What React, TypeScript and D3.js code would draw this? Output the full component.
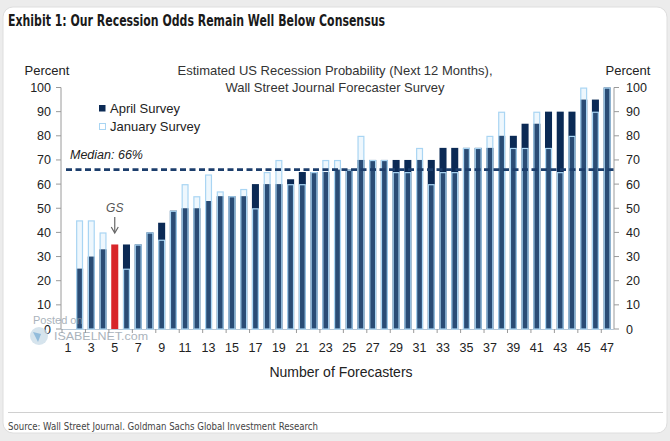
import React from "react";
import * as d3 from "d3";

const categories = [1,2,3,4,5,6,7,8,9,10,11,12,13,14,15,16,17,18,19,20,21,22,23,24,25,26,27,28,29,30,31,32,33,34,35,36,37,38,39,40,41,42,43,44,45,46,47];
const aprilSurvey = [null,25,30,33,35,35,35,40,44,49,50,50,53,55,55,55,60,60,60,62,65,65,65,66,66,70,70,70,70,70,70,70,75,75,75,75,75,80,80,85,85,90,90,90,95,95,100];
const januarySurvey = [null,45,45,40,35,25,35,40,37,49,60,55,64,57,55,58,50,65,70,60,60,65,70,70,66,80,70,70,65,65,75,60,65,65,75,75,80,90,75,75,90,75,65,80,100,90,100];
const yTicks = [0,10,20,30,40,50,60,70,80,90,100];
const xTickLabels = [1,3,5,7,9,11,13,15,17,19,21,23,25,27,29,31,33,35,37,39,41,43,45,47];
const gsForecaster = 5;
const median = 66;

const NAVY = "#0b2a55";
const LIGHT = "#a9d5f3";
const RED = "#d8262a";
const FONT = "'Liberation Sans', Arial, sans-serif";
const NARROW = "'Liberation Sans Narrow', 'DejaVu Sans Condensed', sans-serif";

export default function App() {
  const W = 670, H = 441;
  const x = d3.scaleBand<number>().domain(categories).range([62, 613]).paddingInner(0.4).paddingOuter(0.2);
  const y = d3.scaleLinear().domain([0, 100]).range([329, 87.5]);
  const bw = x.bandwidth();
  const step = x.step();
  const xl = 61, xr = 614;

  return (
    <svg width={W} height={H} style={{ position: "absolute", left: 0, top: 0 }} fontFamily={FONT}>
      <rect x={0} y={0} width={W} height={H} fill="#ececec" />
      <rect x={3} y={7} width={664} height={426} rx={10} fill="#ffffff" stroke="#dedede" />
      <text x={8} y={26} fontFamily={NARROW} fontWeight="bold" fontSize={15} fill="#1a1a1a" textLength={377} lengthAdjust="spacingAndGlyphs">
        Exhibit 1: Our Recession Odds Remain Well Below Consensus
      </text>

      {/* chart title */}
      <text x={335} y={74.5} textAnchor="middle" fontSize={13} fill="#333">Estimated US Recession Probability (Next 12 Months),</text>
      <text x={335} y={91.5} textAnchor="middle" fontSize={13} fill="#333">Wall Street Journal Forecaster Survey</text>

      {/* axis titles */}
      <text x={47} y={74.5} textAnchor="middle" fontSize={13} fill="#222">Percent</text>
      <text x={628} y={74.5} textAnchor="middle" fontSize={13} fill="#222">Percent</text>

      {/* axes */}
      <line x1={xl} x2={xl} y1={y(100)} y2={y(0)} stroke="#9a9a9a" />
      <line x1={xr} x2={xr} y1={y(100)} y2={y(0)} stroke="#9a9a9a" />
      <line x1={xl} x2={xr} y1={y(0) + 0.5} y2={y(0) + 0.5} stroke="#b8c8d6" />
      {yTicks.map((t) => (
        <g key={"yt" + t}>
          <line x1={xl - 5} x2={xl} y1={y(t)} y2={y(t)} stroke="#9a9a9a" />
          <line x1={xr} x2={xr + 5} y1={y(t)} y2={y(t)} stroke="#9a9a9a" />
          <text x={51} y={y(t) + 4.5} textAnchor="end" fontSize={12.5} fill="#222">{t}</text>
          <text x={626} y={y(t) + 4.5} textAnchor="start" fontSize={12.5} fill="#222">{t}</text>
        </g>
      ))}
      {xTickLabels.map((c) => {
        const cx = (x(c) as number) + bw / 2;
        return (
          <g key={"xt" + c}>
            <line x1={cx - step / 2} x2={cx - step / 2} y1={y(0)} y2={y(0) + 4} stroke="#9a9a9a" />
            <text x={cx} y={352} textAnchor="middle" fontSize={12.5} fill="#222">{c}</text>
          </g>
        );
      })}
      <text x={341} y={377} textAnchor="middle" fontSize={14} fill="#222">Number of Forecasters</text>

      {/* April bars */}
      {categories.map((c, i) => {
        const v = aprilSurvey[i];
        if (v == null) return null;
        return (
          <rect key={"a" + c} x={x(c)} y={y(v)} width={bw} height={y(0) - y(v)} fill={c === gsForecaster ? RED : NAVY} />
        );
      })}
      {/* January outlines */}
      {categories.map((c, i) => {
        const v = januarySurvey[i];
        if (v == null || c === gsForecaster) return null;
        return (
          <rect key={"j" + c} x={(x(c) as number) + 0.6} y={y(v) + 0.6} width={bw - 1.2} height={y(0) - y(v) - 0.6}
            fill={LIGHT} fillOpacity={0.2} stroke={LIGHT} strokeWidth={1.2} />
        );
      })}

      {/* median */}
      <line x1={xl + 5} x2={xr} y1={y(median)} y2={y(median)} stroke="#1c3e6c" strokeWidth={2.6} strokeDasharray="6,3.5" />
      <text x={70} y={159} fontSize={12.5} fontStyle="italic" fill="#222">Median: 66%</text>

      {/* legend */}
      <rect x={99} y={105} width={6.5} height={6.5} fill={NAVY} />
      <text x={110} y={113} fontSize={13} fill="#222">April Survey</text>
      <rect x={99.5} y={123.5} width={6} height={6} fill="#fff" stroke={LIGHT} />
      <text x={110} y={131} fontSize={13} fill="#222">January Survey</text>

      {/* GS annotation */}
      {(() => {
        const cx = (x(gsForecaster) as number) + bw / 2;
        return (
          <g>
            <text x={cx} y={212} textAnchor="middle" fontSize={12} fontStyle="italic" fill="#555">GS</text>
            <line x1={cx} x2={cx} y1={217} y2={232} stroke="#666" strokeWidth={1.2} />
            <path d={`M${cx - 3.5},${227} L${cx},${233} L${cx + 3.5},${227}`} fill="none" stroke="#666" strokeWidth={1.2} />
          </g>
        );
      })()}

      {/* watermark */}
      <g opacity={0.75}>
        <circle cx={39} cy={336} r={9} fill="#c9dbe8" />
        <path d="M33,332 L41,334 L38,342 Z" fill="#6fa6cf" />
        <text x={33} y={324} fontSize={11} fill="#8e9aa6">Posted on</text>
        <text x={54} y={340} fontSize={11} fill="#8e9aa6" textLength={94} lengthAdjust="spacingAndGlyphs">ISABELNET.com</text>
      </g>

      {/* footer */}
      <line x1={8} x2={663} y1={412.5} y2={412.5} stroke="#d0d0d0" strokeWidth={1.2} />
      <text x={8} y={430} fontFamily={NARROW} fontSize={10} fill="#444" textLength={310} lengthAdjust="spacingAndGlyphs">
        Source: Wall Street Journal. Goldman Sachs Global Investment Research
      </text>
    </svg>
  );
}
